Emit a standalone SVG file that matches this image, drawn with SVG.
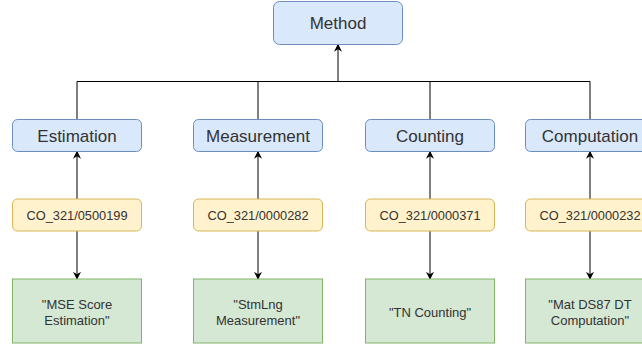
<svg xmlns="http://www.w3.org/2000/svg" width="642" height="347" viewBox="0 0 642 347">
  <defs>
    <marker id="arrow" viewBox="0 0 10 10" refX="9" refY="5" markerWidth="8" markerHeight="8" markerUnits="userSpaceOnUse" orient="auto">
      <path d="M0,0 L10,5 L0,10 L3,5 Z" fill="#000"/>
    </marker>
    <style>
      .cat { fill: #dae8fc; stroke: #6c8ebf; stroke-width: 1; }
      .code { fill: #fff2cc; stroke: #d6b656; stroke-width: 1; }
      .item { fill: #d5e8d4; stroke: #82b366; stroke-width: 1; }
      .t { font-family: "Liberation Sans", Arial, sans-serif; fill: #333333; text-anchor: middle; }
      .big { font-size: 17px; }
      .mid { font-size: 12.8px; }
      .sm { font-size: 13px; }
      .edge { fill: none; stroke: #000; stroke-width: 1; }
    </style>
  </defs>
  <rect width="642" height="347" fill="#ffffff"/>

  <!-- connectors -->
  <g id="connectors">
    <path class="edge" d="M77,119 V81.5 H590 V119"/>
    <path class="edge" d="M258,119 V81.5"/>
    <path class="edge" d="M430,119 V81.5"/>
    <path class="edge" d="M338,81.5 V44.5" marker-end="url(#arrow)"/>

    <path class="edge" d="M77,199 V151.5" marker-end="url(#arrow)"/>
    <path class="edge" d="M258,199 V151.5" marker-end="url(#arrow)"/>
    <path class="edge" d="M430,199 V151.5" marker-end="url(#arrow)"/>
    <path class="edge" d="M590,199 V151.5" marker-end="url(#arrow)"/>

    <path class="edge" d="M77,231 V279" marker-end="url(#arrow)"/>
    <path class="edge" d="M258,231 V279" marker-end="url(#arrow)"/>
    <path class="edge" d="M430,231 V279" marker-end="url(#arrow)"/>
    <path class="edge" d="M590,231 V279" marker-end="url(#arrow)"/>
  </g>

  <!-- root -->
  <g id="method">
    <rect class="cat" x="273.5" y="1.5" width="129" height="43" rx="6"/>
    <text class="t big" x="338" y="28.5">Method</text>
  </g>

  <!-- categories -->
  <g id="estimation">
    <rect class="cat" x="12.5" y="119.5" width="129" height="32" rx="5"/>
    <text class="t big" x="77" y="141.5">Estimation</text>
  </g>
  <g id="measurement">
    <rect class="cat" x="193.5" y="119.5" width="129" height="32" rx="5"/>
    <text class="t big" x="258" y="141.5">Measurement</text>
  </g>
  <g id="counting">
    <rect class="cat" x="365.5" y="119.5" width="129" height="32" rx="5"/>
    <text class="t big" x="430" y="141.5">Counting</text>
  </g>
  <g id="computation">
    <rect class="cat" x="525.5" y="119.5" width="129" height="32" rx="5"/>
    <text class="t big" x="590" y="141.5">Computation</text>
  </g>

  <!-- codes -->
  <g id="code-0500199">
    <rect class="code" x="12.5" y="199" width="129" height="32" rx="5"/>
    <text class="t mid" x="77" y="219.5">CO_321/0500199</text>
  </g>
  <g id="code-0000282">
    <rect class="code" x="193.5" y="199" width="129" height="32" rx="5"/>
    <text class="t mid" x="258" y="219.5">CO_321/0000282</text>
  </g>
  <g id="code-0000371">
    <rect class="code" x="365.5" y="199" width="129" height="32" rx="5"/>
    <text class="t mid" x="430" y="219.5">CO_321/0000371</text>
  </g>
  <g id="code-0000232">
    <rect class="code" x="525.5" y="199" width="129" height="32" rx="5"/>
    <text class="t mid" x="590" y="219.5">CO_321/0000232</text>
  </g>

  <!-- instances -->
  <g id="mse-score">
    <rect class="item" x="12.5" y="279" width="129" height="64"/>
    <text class="t sm" x="77" y="308.8">"MSE Score</text>
    <text class="t sm" x="77" y="324.8">Estimation"</text>
  </g>
  <g id="stmlng">
    <rect class="item" x="193.5" y="279" width="129" height="64"/>
    <text class="t sm" x="258" y="308.8">"StmLng</text>
    <text class="t sm" x="258" y="324.8">Measurement"</text>
  </g>
  <g id="tn-counting">
    <rect class="item" x="365.5" y="279" width="129" height="64"/>
    <text class="t sm" x="430" y="316.5">"TN Counting"</text>
  </g>
  <g id="mat-ds87">
    <rect class="item" x="525.5" y="279" width="129" height="64"/>
    <text class="t sm" x="590" y="308.8">"Mat DS87 DT</text>
    <text class="t sm" x="590" y="324.8">Computation"</text>
  </g>
</svg>
